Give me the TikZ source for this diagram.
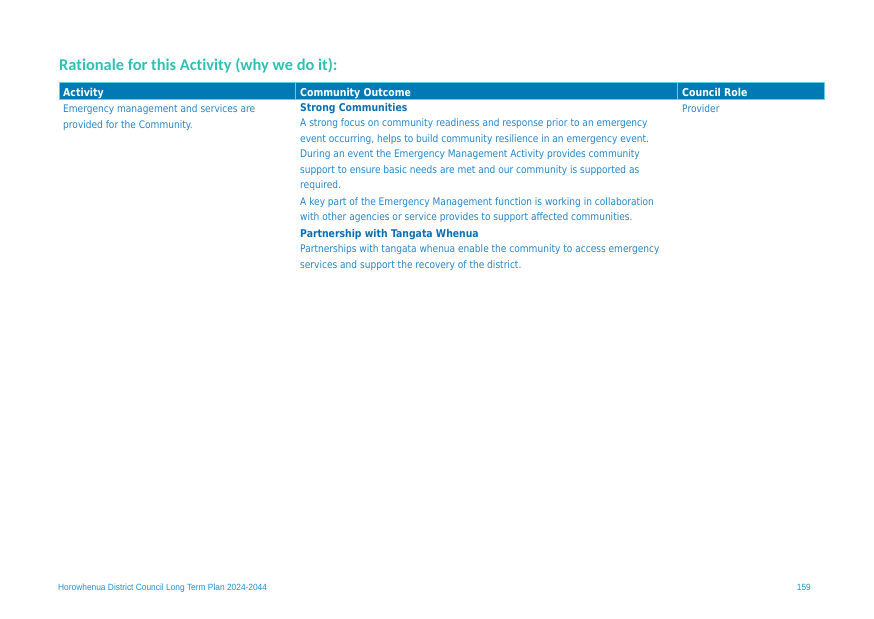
\documentclass[tikz,border=0pt]{standalone}
\usepackage{fontspec}
\setmainfont{DejaVu Sans}[FakeStretch=0.87]
\newfontfamily\titlefont{Carlito}[Ligatures=CommonOff]
\newfontfamily\footfont{Liberation Sans}[FakeStretch=0.93]
\definecolor{rtteal}{HTML}{2FC0B4}
\definecolor{rtblue}{HTML}{0079B5}
\definecolor{rtedge}{HTML}{62CFE3}
\definecolor{rttext}{HTML}{2585C7}
\definecolor{rtdark}{HTML}{0B6FAF}
\definecolor{rtfoot}{HTML}{1E8FD0}

\begin{document}
\begin{tikzpicture}[x=1pt,y=-1pt,
  titletext/.style={anchor=base west,inner sep=0pt,text=rtteal,font=\titlefont\bfseries\fontsize{16.4}{19}\selectfont},
  headtext/.style={anchor=base west,inner sep=0pt,text=white,font=\bfseries\fontsize{10.8}{12}\selectfont},
  celltext/.style={anchor=base west,inner sep=0pt,text=rttext,font=\fontsize{10.4}{12}\selectfont},
  cellhead/.style={celltext,text=rtdark,font=\bfseries\fontsize{10.7}{12}\selectfont},
  foottext/.style={anchor=base west,inner sep=0pt,text=rtfoot,font=\footfont\fontsize{9}{10}\selectfont}]%
\useasboundingbox (0,0) rectangle (874,618);%
% page title
\node[titletext] (title) at (59,70.5) {Rationale for this Activity (why we do it):};%
% header bar
\fill[rtblue] (59,82) rectangle (824,99);%
\draw[rtedge,line width=1pt] (59,82) rectangle (824,99) (295,82) -- (295,99) (677,82) -- (677,99);%
\node[headtext] (hact) at (63,96) {Activity};%
\node[headtext] (hout) at (300,96) {Community Outcome};%
\node[headtext] (hrole) at (682,96) {Council Role};%
% activity column
\node[celltext] (act1) at (63,112.5) {Emergency management and services are};%
\node[celltext] (act2) at (63,128) {provided for the Community.};%
% outcome column
\node[cellhead] (strong) at (300,111.7) {Strong Communities};%
\foreach \y/\t [count=\i] in {126.7/{A strong focus on community readiness and response prior to an emergency},
  142.3/{event occurring, helps to build community resilience in an emergency event.},
  157.7/{During an event the Emergency Management Activity provides community},
  173.3/{support to ensure basic needs are met and our community is supported as},
  188.3/{required.},
  205/{A key part of the Emergency Management function is working in collaboration},
  220.7/{with other agencies or service provides to support affected communities.}}
  \node[celltext] (out\i) at (300,\y) {\t};%
\node[cellhead] (partner) at (300,237.7) {Partnership with Tangata Whenua};%
\foreach \y/\t [count=\i] in {252.7/{Partnerships with tangata whenua enable the community to access emergency},
  268.3/{services and support the recovery of the district.}}
  \node[celltext] (tw\i) at (300,\y) {\t};%
% role column
\node[celltext] (role) at (682,112) {Provider};%
% footer
\node[foottext] (plan) at (58,590) {Horowhenua District Council Long Term Plan 2024-2044};%
\node[foottext,anchor=base east] (page) at (811,590) {159};%
\end{tikzpicture}
\end{document}
